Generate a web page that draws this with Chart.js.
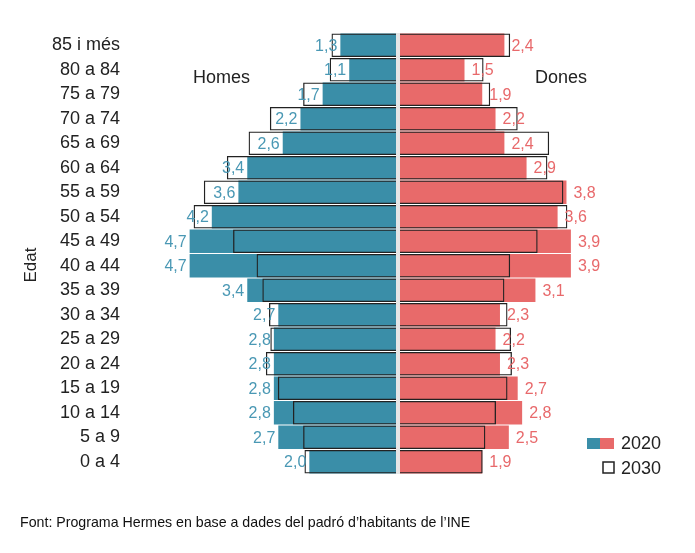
<!DOCTYPE html>
<html>
<head>
<meta charset="utf-8">
<script src="https://cdn.jsdelivr.net/npm/chart.js@4.4.0/dist/chart.umd.min.js"></script>
<style>
  html, body { margin: 0; padding: 0; background: #fff; }
  #wrap { position: relative; width: 695px; height: 553px; }
</style>
</head>
<body>
<div id="wrap"><canvas id="chart"></canvas></div>
<script>
// Age groups, top to bottom
const ageGroups = ["85 i més", "80 a 84", "75 a 79", "70 a 74", "65 a 69", "60 a 64", "55 a 59", "50 a 54", "45 a 49",
  "40 a 44", "35 a 39", "30 a 34", "25 a 29", "20 a 24", "15 a 19", "10 a 14", "5 a 9", "0 a 4"]

// Share of population (%), 2020 (labelled) and 2030 (outline, estimated)
const men2020 = [1.3, 1.1, 1.7, 2.2, 2.6, 3.4, 3.6, 4.2, 4.7, 4.7, 3.4, 2.7, 2.8, 2.8, 2.8, 2.8, 2.7, 2.0]
const women2020 = [2.4, 1.5, 1.9, 2.2, 2.4, 2.9, 3.8, 3.6, 3.9, 3.9, 3.1, 2.3, 2.2, 2.3, 2.7, 2.8, 2.5, 1.9]
const men2030 = [1.5, 1.54, 2.14, 2.89, 3.37, 3.86, 4.38, 4.61, 3.72, 3.19, 3.06, 2.91, 2.88, 2.98, 2.71, 2.37, 2.14, 2.11]
const women2030 = [2.53, 1.93, 2.08, 2.7, 3.41, 3.37, 3.73, 3.82, 3.15, 2.53, 2.4, 2.47, 2.55, 2.57, 2.47, 2.21, 1.97, 1.91]

const TEAL = "#3a8ea8"
const RED = "#e86a6a"
const TEAL_TEXT = "#4a98b4"
const RED_TEXT = "#e8696b"
const INK = "#222"
const FONT = "'Liberation Sans', Arial, sans-serif"

const neg = (arr) => arr.map((v) => -v)

// Extra drawing: centre gap, value labels, side titles, legend, source
const decorations = {
  id: "decorations",
  afterDatasetsDraw(chart) {
    const { ctx, chartArea, scales } = chart
    const x0 = scales.x.getPixelForValue(0)

    ctx.save()
    ctx.fillStyle = "#e6e6e6"
    ctx.fillRect(x0 - 2, chartArea.top, 4, chartArea.bottom - chartArea.top)

    // value labels (2020)
    ctx.font = "16px " + FONT
    ctx.textBaseline = "middle"
    const menMeta = chart.getDatasetMeta(2)
    const womenMeta = chart.getDatasetMeta(3)
    menMeta.data.forEach((bar, i) => {
      ctx.fillStyle = TEAL_TEXT
      ctx.textAlign = "right"
      ctx.fillText(men2020[i].toFixed(1).replace(".", ","), bar.x - 3, bar.y + 1)
    })
    womenMeta.data.forEach((bar, i) => {
      ctx.fillStyle = RED_TEXT
      ctx.textAlign = "left"
      ctx.fillText(women2020[i].toFixed(1).replace(".", ","), bar.x + 7, bar.y + 1)
    })

    // side titles
    ctx.fillStyle = INK
    ctx.font = "18px " + FONT
    ctx.textAlign = "left"
    ctx.fillText("Homes", 193, 78)
    ctx.fillText("Dones", 535, 78)

    // axis title
    ctx.save()
    ctx.translate(31, 265)
    ctx.rotate(-Math.PI / 2)
    ctx.textAlign = "center"
    ctx.font = "17px " + FONT
    ctx.fillText("Edat", 0, 0)
    ctx.restore()

    // legend
    ctx.fillStyle = TEAL
    ctx.fillRect(587, 438, 13, 11)
    ctx.fillStyle = RED
    ctx.fillRect(600, 438, 14, 11)
    ctx.fillStyle = "#fff"
    ctx.fillRect(603, 462, 11, 11)
    ctx.strokeStyle = INK
    ctx.lineWidth = 1.5
    ctx.strokeRect(603, 462, 11, 11)
    ctx.fillStyle = INK
    ctx.font = "18px " + FONT
    ctx.textAlign = "left"
    ctx.fillText("2020", 621, 444)
    ctx.fillText("2030", 621, 469)

    // source
    ctx.font = "14.2px " + FONT
    ctx.fillStyle = "#111"
    ctx.fillText("Font: Programa Hermes en base a dades del padró d\u2019habitants de l\u2019INE", 20, 523)
    ctx.restore()
  },
}

const barCommon = {
  grouped: false,
  barPercentage: 0.96,
  categoryPercentage: 1,
}

new Chart(document.getElementById("chart"), {
  type: "bar",
  data: {
    labels: ageGroups,
    datasets: [
      // 2030 white fill (back)
      { ...barCommon, label: "2030 homes fons", data: neg(men2030), backgroundColor: "#fff", borderWidth: 0, order: 3 },
      { ...barCommon, label: "2030 dones fons", data: women2030, backgroundColor: "#fff", borderWidth: 0, order: 3 },
      // 2020 filled
      { ...barCommon, label: "2020 homes", data: neg(men2020), backgroundColor: TEAL, borderWidth: 0, order: 2 },
      { ...barCommon, label: "2020 dones", data: women2020, backgroundColor: RED, borderWidth: 0, order: 2 },
      // 2030 outline (front)
      { ...barCommon, label: "2030 homes", data: neg(men2030), backgroundColor: "rgba(0,0,0,0)", borderColor: INK, borderWidth: 1.3, order: 1 },
      { ...barCommon, label: "2030 dones", data: women2030, backgroundColor: "rgba(0,0,0,0)", borderColor: INK, borderWidth: 1.3, order: 1 },
    ],
  },
  options: {
    indexAxis: "y",
    responsive: true,
    maintainAspectRatio: false,
    animation: false,
    layout: { padding: { top: 33, bottom: 79, left: 0, right: 31 } },
    scales: {
      x: { display: false, min: -6.0, max: 6.0 },
      y: {
        grid: { display: false, drawTicks: false },
        border: { display: false },
        ticks: { color: INK, font: { size: 18, family: FONT }, padding: 12, autoSkip: false },
        afterFit: (axis) => { axis.width = 132 },
      },
    },
    plugins: {
      legend: { display: false },
      tooltip: { enabled: false },
    },
  },
  plugins: [decorations],
})
</script>
</body>
</html>
